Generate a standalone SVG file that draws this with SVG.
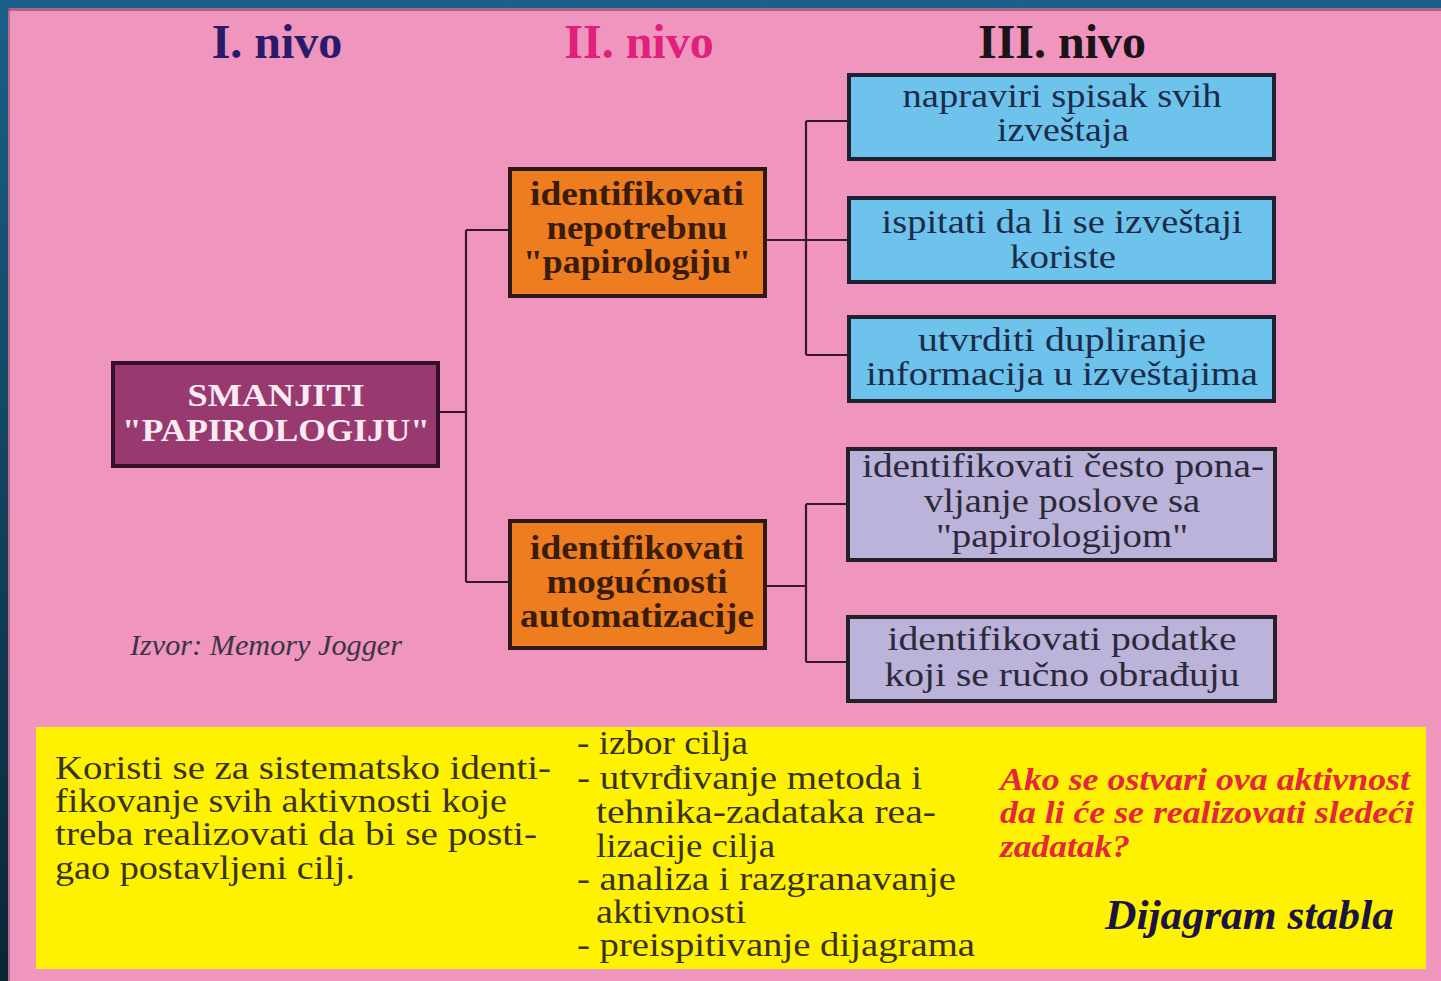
<svg xmlns="http://www.w3.org/2000/svg" width="1441" height="981" viewBox="0 0 1441 981">
<defs>
<linearGradient id="bg" x1="0" y1="0" x2="0" y2="1">
<stop offset="0" stop-color="#1a6088"/>
<stop offset="1" stop-color="#0b2535"/>
</linearGradient>
<style>
.serif{font-family:"Liberation Serif","Times New Roman",serif}
.hdr{font-size:48px;font-weight:bold;text-anchor:middle}
.box{stroke-width:4}
.lvl2{fill:#ee7d1f;stroke:#2e1a14}
.lvl3a{fill:#6ec3ec;stroke:#1c2232}
.lvl3b{fill:#bbb3d9;stroke:#222028}
.t2{font-size:33px;font-weight:bold;fill:#3a1c0c;text-anchor:middle}
.t3a{font-size:33px;fill:#1c2c48;text-anchor:middle}
.t3b{font-size:33px;fill:#2c2a3a;text-anchor:middle}
.yt{font-size:33px;fill:#3a3222}
.red{font-size:32px;font-weight:bold;font-style:italic;fill:#e2263c}
.conn{fill:none;stroke:#3a1a22;stroke-width:2.2}
</style>
</defs>
<rect x="0" y="0" width="1441" height="981" fill="url(#bg)"/>
<rect x="8" y="8" width="1440" height="980" fill="#f095bd"/>
<rect x="8" y="8" width="1440" height="3" fill="#7a4a5e" opacity="0.6"/>
<rect x="8" y="8" width="2" height="980" fill="#7a4a5e" opacity="0.5"/>

<g id="headers" class="serif">
<text class="hdr" x="277" y="58" fill="#2a1a6a">I. nivo</text>
<text class="hdr" x="639" y="58" fill="#e0207a">II. nivo</text>
<text class="hdr" x="1062" y="58" fill="#1a1418">III. nivo</text>
</g>

<g id="connectors">
<path class="conn" d="M440 412 H466 M466 230 V582 M466 230 H508 M466 582 H508"/>
<path class="conn" d="M767 240 H847 M806 121 V355 M806 121 H847 M806 355 H847"/>
<path class="conn" d="M767 586 H806 M806 504 V662 M806 504 H847 M806 662 H847"/>
</g>

<g id="root" class="serif">
<rect class="box" x="113" y="363" width="325" height="103" fill="#983a70" stroke="#351028"/>
<text x="276" y="406" font-size="32" font-weight="bold" fill="#faeaf2" text-anchor="middle" textLength="177" lengthAdjust="spacingAndGlyphs">SMANJITI</text>
<text x="276" y="441" font-size="32" font-weight="bold" fill="#faeaf2" text-anchor="middle" textLength="308" lengthAdjust="spacingAndGlyphs">"PAPIROLOGIJU"</text>
</g>

<g id="n2a" class="serif">
<rect class="box lvl2" x="510" y="169" width="255" height="127"/>
<text class="t2" x="637" y="205" textLength="214" lengthAdjust="spacingAndGlyphs">identifikovati</text>
<text class="t2" x="637" y="239" textLength="181" lengthAdjust="spacingAndGlyphs">nepotrebnu</text>
<text class="t2" x="637" y="273" textLength="228" lengthAdjust="spacingAndGlyphs">"papirologiju"</text>
</g>

<g id="n2b" class="serif">
<rect class="box lvl2" x="510" y="521" width="255" height="127"/>
<text class="t2" x="637" y="559" textLength="214" lengthAdjust="spacingAndGlyphs">identifikovati</text>
<text class="t2" x="637" y="593" textLength="181" lengthAdjust="spacingAndGlyphs">mogućnosti</text>
<text class="t2" x="637" y="627" textLength="234" lengthAdjust="spacingAndGlyphs">automatizacije</text>
</g>

<g id="n3a" class="serif">
<rect class="box lvl3a" x="849" y="75" width="425" height="84"/>
<text class="t3a" x="1062" y="107" textLength="319" lengthAdjust="spacingAndGlyphs">napraviri spisak svih</text>
<text class="t3a" x="1063" y="141" textLength="132" lengthAdjust="spacingAndGlyphs">izveštaja</text>
</g>

<g id="n3b" class="serif">
<rect class="box lvl3a" x="849" y="198" width="425" height="84"/>
<text class="t3a" x="1062" y="233" textLength="361" lengthAdjust="spacingAndGlyphs">ispitati da li se izveštaji</text>
<text class="t3a" x="1063" y="268" textLength="106" lengthAdjust="spacingAndGlyphs">koriste</text>
</g>

<g id="n3c" class="serif">
<rect class="box lvl3a" x="849" y="317" width="425" height="84"/>
<text class="t3a" x="1062" y="351" textLength="288" lengthAdjust="spacingAndGlyphs">utvrditi dupliranje</text>
<text class="t3a" x="1062" y="385" textLength="392" lengthAdjust="spacingAndGlyphs">informacija u izveštajima</text>
</g>

<g id="n3d" class="serif">
<rect class="box lvl3b" x="848" y="449" width="427" height="111"/>
<text class="t3b" x="1063" y="477" textLength="402" lengthAdjust="spacingAndGlyphs">identifikovati često pona-</text>
<text class="t3b" x="1062" y="512" textLength="276" lengthAdjust="spacingAndGlyphs">vljanje poslove sa</text>
<text class="t3b" x="1062" y="547" textLength="252" lengthAdjust="spacingAndGlyphs">"papirologijom"</text>
</g>

<g id="n3e" class="serif">
<rect class="box lvl3b" x="848" y="617" width="427" height="84"/>
<text class="t3b" x="1062" y="650" textLength="349" lengthAdjust="spacingAndGlyphs">identifikovati podatke</text>
<text class="t3b" x="1062" y="686" textLength="355" lengthAdjust="spacingAndGlyphs">koji se ručno obrađuju</text>
</g>

<g id="source" class="serif">
<text x="130" y="655" font-size="29" font-style="italic" fill="#3a3446" textLength="272" lengthAdjust="spacingAndGlyphs">Izvor: Memory Jogger</text>
</g>

<g id="infobox" class="serif">
<rect x="36" y="727" width="1390" height="242" fill="#fff200"/>
<text class="yt" x="55" y="779" textLength="496" lengthAdjust="spacingAndGlyphs">Koristi se za sistematsko identi-</text>
<text class="yt" x="55" y="812" textLength="452" lengthAdjust="spacingAndGlyphs">fikovanje svih aktivnosti koje</text>
<text class="yt" x="55" y="845" textLength="482" lengthAdjust="spacingAndGlyphs">treba realizovati da bi se posti-</text>
<text class="yt" x="55" y="879" textLength="300" lengthAdjust="spacingAndGlyphs">gao postavljeni cilj.</text>
<text class="yt" x="577" y="754" textLength="171" lengthAdjust="spacingAndGlyphs">- izbor cilja</text>
<text class="yt" x="577" y="789" textLength="345" lengthAdjust="spacingAndGlyphs">- utvrđivanje metoda i</text>
<text class="yt" x="596" y="823" textLength="340" lengthAdjust="spacingAndGlyphs">tehnika-zadataka rea-</text>
<text class="yt" x="596" y="857" textLength="179" lengthAdjust="spacingAndGlyphs">lizacije cilja</text>
<text class="yt" x="577" y="890" textLength="379" lengthAdjust="spacingAndGlyphs">- analiza i razgranavanje</text>
<text class="yt" x="596" y="923" textLength="150" lengthAdjust="spacingAndGlyphs">aktivnosti</text>
<text class="yt" x="577" y="956" textLength="398" lengthAdjust="spacingAndGlyphs">- preispitivanje dijagrama</text>
<text class="red" x="1000" y="790" textLength="410" lengthAdjust="spacingAndGlyphs">Ako se ostvari ova aktivnost</text>
<text class="red" x="1000" y="823" textLength="414" lengthAdjust="spacingAndGlyphs">da li će se realizovati sledeći</text>
<text class="red" x="1000" y="857" textLength="130" lengthAdjust="spacingAndGlyphs">zadatak?</text>
<text x="1105" y="929" font-size="43" font-weight="bold" font-style="italic" fill="#1c1440" textLength="289" lengthAdjust="spacingAndGlyphs">Dijagram stabla</text>
</g>
</svg>
